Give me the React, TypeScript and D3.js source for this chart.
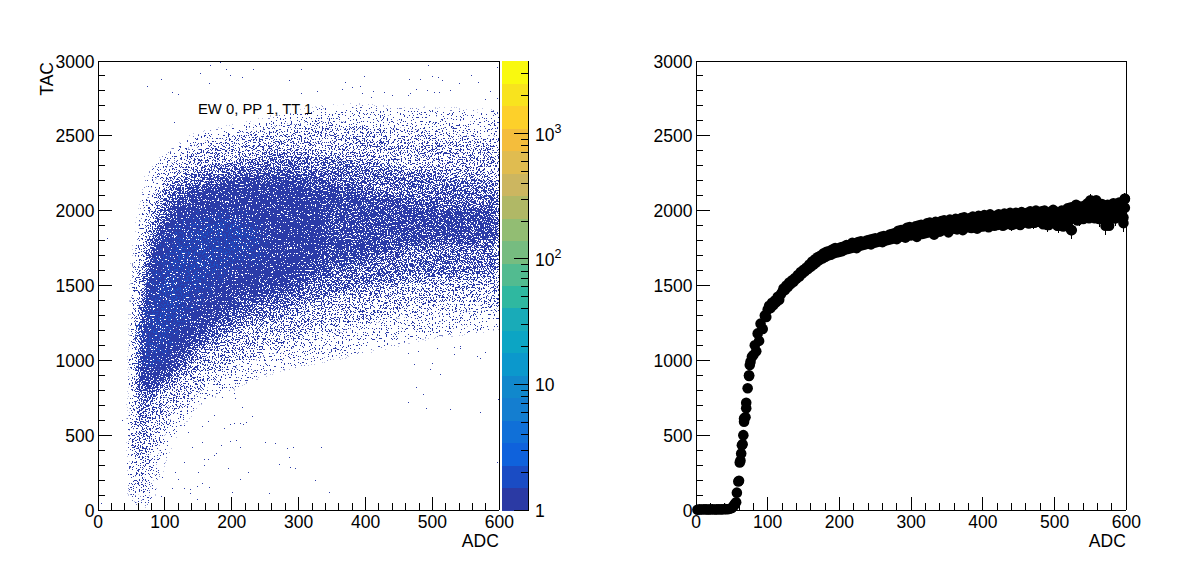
import React from "react";
import * as d3 from "d3";

// ---------- density bands of the left panel (TAC by ADC) ----------
const bandAdc = [57, 60, 65, 70, 80, 90, 100, 120, 150, 200, 250, 300, 350, 400, 450, 500, 550, 600];
const wispHigh = [900, 1550, 1800, 1950, 2200, 2270, 2320, 2390, 2470, 2520, 2570, 2620, 2660, 2660, 2640, 2640, 2630, 2630];
const wispLow = [60, 60, 60, 60, 200, 320, 450, 600, 750, 850, 950, 1000, 1050, 1100, 1150, 1200, 1220, 1250];
const outerHigh = [600, 1350, 1650, 1800, 2000, 2120, 2200, 2290, 2390, 2450, 2500, 2530, 2540, 2520, 2500, 2470, 2450, 2450];
const outerLow = [100, 100, 120, 200, 420, 540, 650, 720, 850, 1000, 1080, 1150, 1230, 1290, 1340, 1380, 1380, 1400];
const midHigh = [500, 1000, 1400, 1650, 1900, 2050, 2130, 2200, 2280, 2330, 2370, 2390, 2360, 2330, 2280, 2260, 2230, 2220];
const midLow = [350, 350, 500, 600, 720, 770, 800, 880, 1020, 1180, 1270, 1340, 1420, 1480, 1520, 1540, 1550, 1580];
const coreHigh = [700, 850, 1200, 1450, 1700, 1850, 1950, 2080, 2170, 2220, 2250, 2250, 2190, 2130, 2080, 2050, 2020, 2000];
const coreLow = [690, 750, 750, 780, 820, 850, 880, 950, 1120, 1300, 1400, 1480, 1600, 1680, 1750, 1780, 1800, 1800];
const denseAdc = [62, 70, 80, 90, 100, 120, 150, 200, 250, 300, 340];
const denseHigh = [1000, 1350, 1600, 1800, 1880, 2000, 2100, 2170, 2190, 2160, 2000];
const denseLow = [900, 850, 880, 920, 950, 1050, 1220, 1400, 1520, 1600, 1800];
const hotAdc = [72, 90, 110, 130, 160, 200, 240];
const hotHigh = [1200, 1550, 1800, 1900, 1950, 1950, 1850];
const hotLow = [1000, 1050, 1200, 1350, 1500, 1650, 1700];

// ---------- isolated outliers of the left panel ----------
const sparseAdc = [168, 183, 152, 192, 198, 232, 215, 304, 286, 94, 74, 166, 110, 120, 304, 327, 114, 14, 62,
  36, 45, 4, 43, 45, 128, 134, 155, 165, 173, 188, 198, 204, 212, 217, 222, 230, 215, 203, 205, 185, 170, 141,
  156, 184, 198, 207, 213, 250, 264, 282, 291, 334, 286, 177, 173, 158, 165, 158, 128, 115, 149, 195, 225, 270,
  287, 294, 213, 324, 200, 256, 346, 166, 155, 148, 128, 111, 137, 137, 148, 94, 78, 85, 120, 95, 89,
  494, 596, 397, 500, 508, 514, 558, 465, 482, 370, 540, 568, 365, 380, 391, 411, 427, 440, 475, 467, 463, 503,
  510, 527, 586, 395, 408, 492, 579, 596,
  482, 507, 532, 541, 541, 533, 479, 463, 566, 571, 579, 473, 500, 497, 512, 476, 486, 463, 598, 491, 527, 571, 597];
const sparseTac = [2973, 2995, 2917, 2944, 2905, 2944, 2890, 2944, 2870, 2877, 2832, 2856, 2795, 2780, 2783, 2800, 2590, 1816, 1905,
  600, 579, 45, 311, 239, 568, 523, 561, 595, 634, 550, 572, 578, 578, 575, 590, 628, 690, 780, 750, 757, 768, 423,
  452, 434, 460, 467, 423, 452, 445, 412, 423, 418, 356, 378, 367, 340, 338, 300, 318, 256, 252, 283, 252, 305,
  285, 280, 209, 203, 119, 112, 122, 155, 178, 162, 150, 150, 143, 116, 71, 91, 80, 143, 209, 218, 256,
  2973, 2960, 2899, 2900, 2890, 2876, 2905, 2878, 2883, 2857, 2855, 2857, 2815, 2824, 2832, 2801, 2795, 2776, 2810, 2787, 2771, 2795,
  2790, 2805, 2801, 2783, 2760, 2805, 2745, 2750,
  1147, 1080, 1087, 1095, 1080, 1042, 1065, 1046, 1030, 1013, 1053, 973, 980, 940, 906, 820, 772, 719, 739, 681, 672, 652, 318];

// ---------- profile of the right panel ----------
const profileLowAdc = [2, 5, 8, 11, 14, 17, 20, 23, 26, 29, 32, 35, 38, 41, 44, 47, 50, 52, 54, 56, 53, 57, 59, 60, 61, 62, 63, 64, 65, 66, 67, 67, 69, 70, 70, 72, 74, 74, 75, 76, 78, 80, 82, 84, 86, 88, 90, 93, 96, 98];
const profileLowTac = [2, 4, 3, 5, 4, 3, 4, 5, 3, 4, 5, 4, 5, 6, 5, 8, 14, 25, 40, 51, 30, 116, 190, 195, 318, 330, 378, 433, 440, 500, 590, 612, 620, 680, 717, 813, 895, 900, 968, 990, 1024, 1035, 1100, 1060, 1180, 1130, 1245, 1210, 1300, 1290];
const profileAdcStart = 100;
const profileTac = [
  1340, 1365, 1350, 1385, 1370, 1400, 1390, 1425, 1405, 1440,
  1455, 1480, 1470, 1500, 1490, 1520, 1510, 1535, 1525, 1550,
  1545, 1570, 1560, 1590, 1580, 1605, 1595, 1620, 1610, 1640,
  1625, 1660, 1640, 1675, 1655, 1690, 1670, 1700, 1680, 1715,
  1690, 1725, 1700, 1730, 1705, 1740, 1715, 1750, 1720, 1745,
  1725, 1755, 1730, 1760, 1740, 1770, 1745, 1765, 1750, 1785,
  1755, 1780, 1750, 1790, 1765, 1795, 1770, 1785, 1775, 1800,
  1780, 1805, 1775, 1810, 1785, 1815, 1790, 1800, 1795, 1825,
  1790, 1830, 1800, 1820, 1805, 1840, 1810, 1845, 1815, 1850,
  1810, 1865, 1825, 1870, 1830, 1860, 1820, 1885, 1835, 1890,
  1835, 1880, 1840, 1895, 1825, 1900, 1850, 1905, 1845, 1890,
  1850, 1915, 1855, 1920, 1860, 1900, 1840, 1925, 1865, 1915,
  1860, 1930, 1870, 1935, 1875, 1910, 1855, 1940, 1880, 1925,
  1880, 1945, 1875, 1935, 1885, 1950, 1870, 1955, 1890, 1930,
  1890, 1950, 1885, 1960, 1900, 1945, 1880, 1965, 1895, 1950,
  1895, 1970, 1905, 1955, 1890, 1975, 1910, 1960, 1900, 1965,
  1905, 1975, 1915, 1960, 1900, 1980, 1910, 1970, 1920, 1985,
  1915, 1965, 1910, 1985, 1925, 1975, 1905, 1990, 1920, 1980,
  1930, 1985, 1915, 1995, 1925, 1975, 1920, 2000, 1930, 1985,
  1925, 1995, 1910, 2000, 1930, 1985, 1905, 1990, 1935, 2005,
  1920, 1990, 1900, 1980, 1945, 2000, 1895, 1995, 1940, 2015,
  1930, 2020, 1870, 2025, 1950, 2040, 1935, 2030, 1955, 2025,
  1945, 2035, 1960, 2050, 1950, 2010, 1965, 2060, 1950, 2070,
  1960, 2030, 1955, 2045, 1965, 2025, 1945, 2040, 1900, 2035,
  1960, 2050, 1950, 2035, 1965, 2055, 1975, 2040, 1955, 2080,
];
const profileMidAdc = [400, 410, 420, 430, 440, 450, 460, 470, 480, 490, 500, 510, 520, 530, 540, 550, 560, 570, 580, 590, 598];
const profileMidTac = [1930, 1935, 1945, 1945, 1950, 1950, 1955, 1960, 1965, 1960, 1965, 1960, 1985, 2000, 1995, 2010, 2000, 2000, 2005, 2000, 2020];
const errAdc = [523, 571, 596, 598, 505, 515, 535, 550, 562, 575, 585, 440, 470, 490];
const errTac = [1870, 1900, 1917, 2080, 1900, 1925, 1945, 2070, 1945, 1950, 1950, 1905, 1920, 1905];
const errSize = [58, 62, 62, 40, 50, 50, 50, 40, 55, 55, 55, 40, 45, 45];

// ---------- ticks and palette ----------
const xMajor = [0, 100, 200, 300, 400, 500, 600];
const xMinor = [20, 40, 60, 80, 120, 140, 160, 180, 220, 240, 260, 280, 320, 340, 360, 380, 420, 440, 460, 480, 520, 540, 560, 580];
const yMajor = [0, 500, 1000, 1500, 2000, 2500, 3000];
const yMinor = [100, 200, 300, 400, 600, 700, 800, 900, 1100, 1200, 1300, 1400, 1600, 1700, 1800, 1900, 2100, 2200, 2300, 2400, 2600, 2700, 2800, 2900];
const paletteColors = ["#2b3aa4", "#1a4cc4", "#0f62dc", "#1070d8", "#147ed0", "#1188cc", "#0b98cc", "#0ca5c4", "#19abb8",
  "#2fb8a0", "#52bb90", "#76bc80", "#92bd73", "#b0b866", "#ccb660", "#e0bc50", "#f4bd3c", "#fdd02a", "#f8e31e", "#f9f90f"];
const zMajor = [1, 10, 100, 1000];
const zMinor = [2, 3, 4, 5, 6, 7, 8, 9, 20, 30, 40, 50, 60, 70, 80, 90, 200, 300, 400, 500, 600, 700, 800, 900, 2000, 3000];
const zMax = 3770;

const FONT = "'Liberation Sans', Arial, sans-serif";
const FS = 17.5;
const TOP = 61;
const BOTTOM = 510;
const dotColor = "#2b3ba8";
const hotColor = "#1a50c6";

const yScale = d3.scaleLinear().domain([0, 3000]).range([BOTTOM, TOP]);
const xLeft = d3.scaleLinear().domain([0, 600]).range([98, 499.3]);
const xRight = d3.scaleLinear().domain([0, 600]).range([696, 1126.3]);
const zScale = d3.scaleLog().domain([1, zMax]).range([BOTTOM, TOP]);

function bandPath(adc: number[], hi: number[], lo: number[]) {
  const rows = adc.map((a, i) => ({ a, hi: hi[i], lo: lo[i] }));
  return d3.area<{ a: number; hi: number; lo: number }>()
    .x((d) => xLeft(d.a))
    .y0((d) => yScale(d.lo))
    .y1((d) => yScale(d.hi))
    .curve(d3.curveMonotoneX)(rows) as string;
}

// texture only: the blurred alpha of the bands sets the local coverage, the noise decides which pixels light up
function Speckle({ id, seed, color, blur }: { id: string; seed: number; color: string; blur: number }) {
  const k = 80;
  return (
    <filter id={id} filterUnits="userSpaceOnUse" x={98} y={61} width={402} height={450} colorInterpolationFilters="sRGB">
      <feGaussianBlur in="SourceAlpha" stdDeviation={blur} result="density" />
      <feTurbulence type="fractalNoise" baseFrequency={0.71} numOctaves={2} seed={seed} result="n" />
      <feColorMatrix in="n" type="matrix" values="0 0 0 0 0 0 0 0 0 0 0 0 0 0 0 3 0 0 0 -1" result="noise" />
      <feComposite in="density" in2="noise" operator="arithmetic" k1={0} k2={k} k3={k} k4={-k} result="mask" />
      <feFlood floodColor={color} result="ink" />
      <feComposite in="ink" in2="mask" operator="in" />
    </filter>
  );
}

function Axes({ x }: { x: d3.ScaleLinear<number, number> }) {
  const [x0, x1] = x.range();
  return (
    <g stroke="#000" strokeWidth={1} shapeRendering="crispEdges">
      <path d={`M${x0},${BOTTOM}H${x1}M${x0},${BOTTOM}V${TOP}H${x1}V${BOTTOM}`} fill="none" />
      {xMajor.map((v) => <line key={v} x1={x(v)} x2={x(v)} y1={BOTTOM} y2={BOTTOM - 13} />)}
      {xMinor.map((v) => <line key={v} x1={x(v)} x2={x(v)} y1={BOTTOM} y2={BOTTOM - 7} />)}
      {yMajor.map((v) => <line key={v} x1={x0} x2={x0 + 14} y1={yScale(v)} y2={yScale(v)} />)}
      {yMinor.map((v) => <line key={v} x1={x0} x2={x0 + 7} y1={yScale(v)} y2={yScale(v)} />)}
    </g>
  );
}

function AxisLabels({ x }: { x: d3.ScaleLinear<number, number> }) {
  const [x0, x1] = x.range();
  return (
    <g fontFamily={FONT} fontSize={FS} fill="#000">
      {xMajor.map((v) => <text key={v} x={x(v)} y={527.5} textAnchor="middle">{v}</text>)}
      {yMajor.map((v) => <text key={v} x={x0 - 3.5} y={yScale(v) + 6.5} textAnchor="end">{v}</text>)}
      <text x={x1 - 0.5} y={547} textAnchor="end">ADC</text>
    </g>
  );
}

export default function App() {
  const layers = [
    { d: bandPath(bandAdc, outerHigh, outerLow), a: 0.21 },
    { d: bandPath(bandAdc, midHigh, midLow), a: 0.4 },
    { d: bandPath(bandAdc, coreHigh, coreLow), a: 0.56 },
    { d: bandPath(denseAdc, denseHigh, denseLow), a: 0.78 },
  ];
  const profile = [
    ...profileLowAdc.map((a, i) => [a, profileLowTac[i]]),
    ...profileTac.map((t, i) => [profileAdcStart + i * 2, t]),
    ...profileMidAdc.map((a, i) => [a, profileMidTac[i]]),
  ];
  return (
    <svg width={1196} height={572} style={{ position: "absolute", left: 0, top: 0, display: "block", background: "#fff" }}>
      <defs>
        <Speckle id="fringe" seed={31} color={dotColor} blur={5} />
        <Speckle id="cloud" seed={7} color={dotColor} blur={4} />
        <Speckle id="hot" seed={19} color={hotColor} blur={6} />
        <clipPath id="plot"><rect x={98} y={61} width={401.3} height={449} /></clipPath>
      </defs>

      {/* left panel */}
      <g clipPath="url(#plot)">
        <g filter="url(#fringe)">
          <path d={bandPath(bandAdc, wispHigh, wispLow)} fill="#000" fillOpacity={0.08} />
        </g>
        <g filter="url(#cloud)">
          {layers.map((l, i) => <path key={i} d={l.d} fill="#000" fillOpacity={l.a} />)}
        </g>
        <g filter="url(#hot)">
          <path d={bandPath(hotAdc, hotHigh, hotLow)} fill="#000" fillOpacity={0.3} />
        </g>
      </g>
      <g fill={dotColor} shapeRendering="crispEdges">
        {sparseAdc.map((a, i) => (
          <rect key={i} x={Math.round(xLeft(a))} y={Math.round(yScale(sparseTac[i]))} width={1} height={1} />
        ))}
      </g>
      <Axes x={xLeft} />
      <AxisLabels x={xLeft} />
      <text transform="translate(53,62) rotate(-90)" fontFamily={FONT} fontSize={FS} textAnchor="end">TAC</text>
      <text x={198} y={114} fontFamily={FONT} fontSize={14.8} fill="#000">EW 0, PP 1, TT 1</text>

      {/* palette */}
      <g shapeRendering="crispEdges">
        {paletteColors.map((c, i) => {
          const h = (BOTTOM - TOP) / 20;
          return <rect key={i} x={501.7} y={BOTTOM - (i + 1) * h} width={26.6} height={h + 0.5} fill={c} />;
        })}
        <g stroke="#000" strokeWidth={1}>
          <path d={`M514,${BOTTOM}H528.3V${TOP}`} fill="none" />
          {zMajor.map((v) => <line key={v} x1={528.3} x2={514} y1={zScale(v)} y2={zScale(v)} />)}
          {zMinor.map((v) => <line key={v} x1={528.3} x2={521} y1={zScale(v)} y2={zScale(v)} />)}
        </g>
      </g>
      <g fontFamily={FONT} fontSize={FS} fill="#000">
        <text x={535} y={zScale(1) + 6.5}>1</text>
        <text x={535} y={zScale(10) + 6.5}>10</text>
        <text x={535} y={zScale(100) + 7.5}>10<tspan dy={-8} fontSize={12.5}>2</tspan></text>
        <text x={535} y={zScale(1000) + 7.5}>10<tspan dy={-8} fontSize={12.5}>3</tspan></text>
      </g>

      {/* right panel */}
      <g stroke="#000" strokeWidth={1} shapeRendering="crispEdges">
        {errAdc.map((a, i) => (
          <line key={i} x1={xRight(a)} x2={xRight(a)} y1={yScale(errTac[i] - errSize[i])} y2={yScale(errTac[i] + errSize[i])} />
        ))}
      </g>
      <g fill="#000">
        {profile.map(([a, t], i) => <circle key={i} cx={xRight(a)} cy={yScale(t)} r={5.3} />)}
        {errAdc.map((a, i) => <circle key={i} cx={xRight(a)} cy={yScale(errTac[i])} r={5.3} />)}
      </g>
      <Axes x={xRight} />
      <AxisLabels x={xRight} />
    </svg>
  );
}
